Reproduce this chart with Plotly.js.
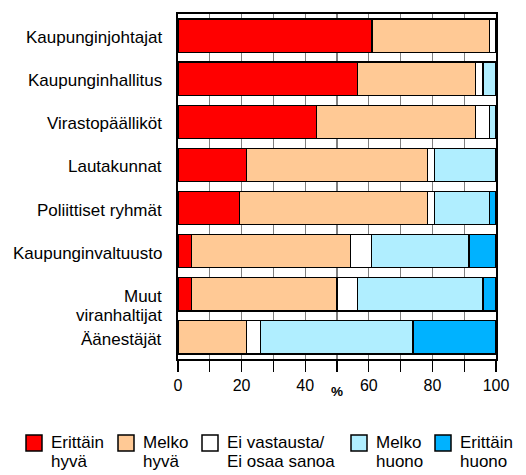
<!DOCTYPE html>
<html>
<head>
<meta charset="utf-8">
<script src="https://cdn.plot.ly/plotly-3.0.1.min.js"></script>
<style>
  html, body { margin: 0; padding: 0; background: #fff; }
  #chart { width: 526px; height: 475px; }
</style>
</head>
<body>
<div id="chart"></div>
<script>
// ---- Data ----
const categories = ['Kaupunginjohtajat', 'Kaupunginhallitus', 'Virastopäälliköt', 'Lautakunnat',
  'Poliittiset ryhmät', 'Kaupunginvaltuusto', 'Muut viranhaltijat', 'Äänestäjät'];
const categoryLabels = ['Kaupunginjohtajat', 'Kaupunginhallitus', 'Virastopäälliköt', 'Lautakunnat',
  'Poliittiset ryhmät', 'Kaupunginvaltuusto', 'Muut<br>viranhaltijat', 'Äänestäjät'];
const seriesNames = ['Erittäin<br>hyvä', 'Melko<br>hyvä', 'Ei vastausta/<br>Ei osaa sanoa', 'Melko<br>huono', 'Erittäin<br>huono'];
const erittainHyva  = [61,   56.5, 43.5, 21.6, 19.4, 4.2,  4.2,  0];
const melkoHyva     = [37,   37.1, 50.1, 56.8, 59,   50.1, 45.8, 21.6];
const eiVastausta   = [2,    2.3,  4.4,  2.2,  2.2,  6.6,  6.5,  4.3];
const melkoHuono    = [0,    4.1,  2,    19.4, 17.4, 30.6, 39.4, 48];
const erittainHuono = [0,    0,    0,    0,    2,    8.5,  4.1,  26.1];
const xTickVals = [0, 10, 20, 30, 40, 50, 60, 70, 80, 90, 100];
const xTickText = ['0', '', '20', '', '40', '', '60', '', '80', '', '100'];
const xAxisLabel = '%';

// ---- Styles ----
const colors = ['#FF0000', '#FFC995', '#FFFFFF', '#B0EEFF', '#00B2FF'];
const FONT = 'Liberation Sans, Arial, Helvetica, sans-serif';
const M = { l: 178, r: 30, t: 14, b: 116 };
const plotBottomPx = 475 - M.b;
const legendItemX = [26, 118, 202, 351, 435];   // px, left edge of each legend square
const legendSquareTop = 435, legendSquareSize = 16;
const legendLine1Y = 442, legendLineGap = 19;

const seriesValues = [erittainHyva, melkoHyva, eiVastausta, melkoHuono, erittainHuono];

const traces = seriesValues.map((vals, i) => ({
  type: 'bar',
  orientation: 'h',
  name: seriesNames[i],
  y: categories,
  x: vals,
  marker: { color: colors[i], line: { color: '#000', width: 1.2 } },
  showlegend: false,
  hoverinfo: 'skip'
}));

const annotations = [];
const shapes = [];

// y category labels (right aligned, multi-line labels start at the bar centre)
categories.forEach((cat, i) => {
  categoryLabels[i].split('<br>').forEach((line, j) => {
    annotations.push({
      xref: 'paper', x: 0, xanchor: 'right', xshift: -14,
      yref: 'y', y: cat, yanchor: 'middle', yshift: -2 - j * 19,
      text: line, showarrow: false,
      font: { family: FONT, size: 17, color: '#000' }
    });
  });
});

// x axis label
annotations.push({
  xref: 'x', x: 50, xanchor: 'center',
  yref: 'paper', y: 0, yanchor: 'middle', yshift: -(391.5 - plotBottomPx),
  text: '<b>' + xAxisLabel + '</b>', showarrow: false,
  font: { family: FONT, size: 13.5, color: '#000' }
});

// custom legend
seriesNames.forEach((nm, i) => {
  const lx = legendItemX[i] - M.l;
  shapes.push({
    type: 'rect', xref: 'paper', yref: 'paper',
    xsizemode: 'pixel', ysizemode: 'pixel', xanchor: 0, yanchor: 0,
    x0: lx, x1: lx + legendSquareSize,
    y0: -(legendSquareTop + legendSquareSize - plotBottomPx), y1: -(legendSquareTop - plotBottomPx),
    fillcolor: colors[i], line: { color: '#000', width: 1.5 }
  });
  nm.split('<br>').forEach((line, j) => {
    annotations.push({
      xref: 'paper', x: 0, xanchor: 'left', xshift: lx + 23,
      yref: 'paper', y: 0, yanchor: 'middle',
      yshift: -(legendLine1Y + j * legendLineGap - plotBottomPx),
      text: line, showarrow: false, align: 'left',
      font: { family: FONT, size: 17, color: '#000' }
    });
  });
});

const layout = {
  width: 526, height: 475,
  margin: M,
  paper_bgcolor: '#fff', plot_bgcolor: '#fff',
  font: { family: FONT, color: '#000' },
  barmode: 'stack',
  bargap: 0.23,
  showlegend: false,
  xaxis: {
    range: [0, 100], fixedrange: true,
    tickmode: 'array', tickvals: xTickVals, ticktext: xTickText,
    ticks: 'outside', ticklen: 11, tickwidth: 1.3, tickcolor: '#000',
    tickfont: { family: FONT, size: 16, color: '#000' },
    showgrid: true, gridcolor: '#808080', gridwidth: 1.3,
    showline: true, linecolor: '#000', linewidth: 2, mirror: true,
    zeroline: false
  },
  yaxis: {
    type: 'category', autorange: 'reversed', fixedrange: true,
    showticklabels: false, ticks: '',
    showgrid: false, zeroline: false,
    showline: true, linecolor: '#000', linewidth: 2, mirror: true
  },
  annotations: annotations,
  shapes: shapes
};

Plotly.newPlot('chart', traces, layout, { staticPlot: true, displayModeBar: false });
</script>
</body>
</html>
